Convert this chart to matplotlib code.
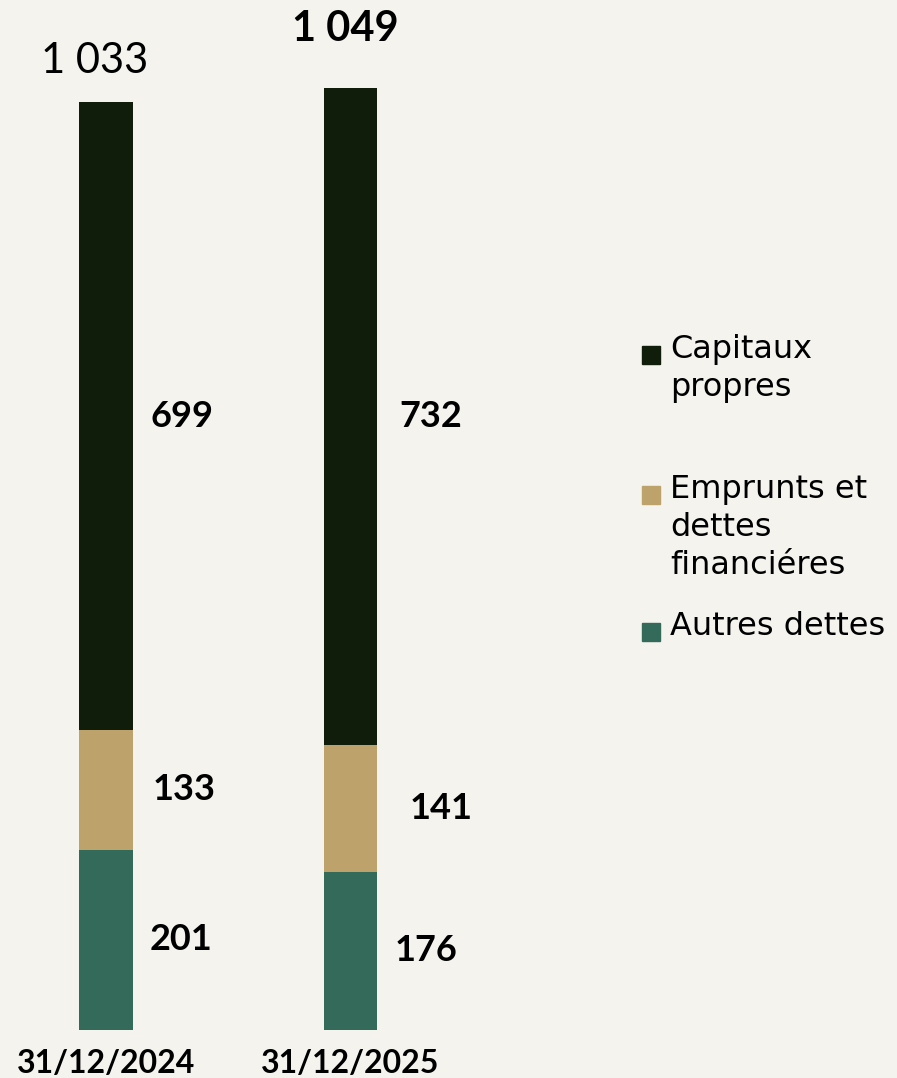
import matplotlib.pyplot as plt
from matplotlib.patches import Rectangle

dates = ["31/12/2024", "31/12/2025"]
autres_dettes = [201, 176]
emprunts = [133, 141]
capitaux = [699, 732]
totals = ["1 033", "1 049"]

series_names = ["Capitaux\npropres", "Emprunts et\ndettes\nfinanciéres", "Autres dettes"]
colors = ["#101d0a", "#bda26b", "#336a5a"]
bg = "#f4f3ee"


def _main():
    fig = plt.figure(figsize=(8.97, 10.78), dpi=100, facecolor=bg)
    ax = fig.add_axes([0, 48 / 1078, 1, 1 - 48 / 1078])
    ax.set_facecolor(bg)

    x = range(len(dates))
    width = 0.22

    # stacked bars, bottom to top
    ax.bar(x, autres_dettes, width, color=colors[2])
    ax.bar(x, emprunts, width, bottom=autres_dettes, color=colors[1])
    base = [a + e for a, e in zip(autres_dettes, emprunts)]
    ax.bar(x, capitaux, width, bottom=base, color=colors[0])

    ax.set_xlim(-0.4335, 3.2352)
    ax.set_ylim(0, 1147)

    # segment labels to the right of each bar
    offsets = [[0.18, 0.19, 0.18], [0.182, 0.243, 0.20]]
    for i in x:
        segs = [autres_dettes[i], emprunts[i], capitaux[i]]
        bottom = 0
        for j, v in enumerate(segs):
            ax.text(i + offsets[i][j], bottom + v / 2, str(v), ha="left", va="center",
                    fontsize=26, fontweight="bold", family="Lato", color="black")
            bottom += v

    # totals above bars
    top1 = base[0] + capitaux[0]
    top2 = base[1] + capitaux[1]
    ax.text(-0.045, top1 + 25, totals[0], ha="center", va="bottom",
            fontsize=30, family="Lato", color="black")
    ax.text(-0.02 + 1, top2 + 45, totals[1], ha="center", va="bottom",
            fontsize=30, fontweight="bold", family="Lato", color="black")

    ax.set_xticks(list(x))
    ax.set_xticklabels(dates, fontsize=23, fontweight="bold", family="Lato")
    ax.tick_params(axis="x", length=0, pad=14)
    ax.set_yticks([])
    for s in ax.spines.values():
        s.set_visible(False)

    # legend drawn by hand so markers line up with the first line of text
    leg_y = [355, 495, 632]
    for name, c, y in zip(series_names, colors, leg_y):
        fy = 1 - y / 1078
        fig.patches.append(Rectangle((642 / 897, fy - 9 / 1078), 18 / 897, 18 / 1078,
                                     transform=fig.transFigure, color=c))
        fig.text(670 / 897, fy + 21 / 1078, name, ha="left", va="top",
                 fontsize=23, family="DejaVu Sans", linespacing=1.3, color="black")

    fig.savefig("out.png", dpi=100, facecolor=bg)


if __name__ == "__main__":
    _main()
